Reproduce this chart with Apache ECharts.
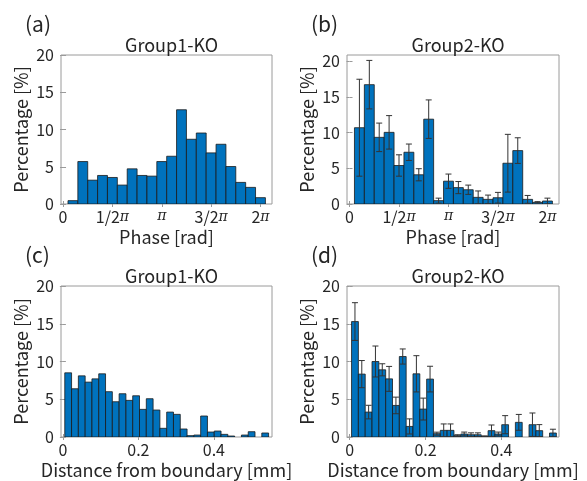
<!DOCTYPE html>
<html>
<head>
<meta charset="utf-8">
<script src="https://cdn.jsdelivr.net/npm/echarts@6/dist/echarts.min.js"></script>
<style>
  html, body { margin: 0; padding: 0; background: #fff; }
  #chart { width: 587px; height: 481px; }
</style>
</head>
<body>
<div id="chart"></div>
<script>
// histogram bins
const phaseBinWidth = Math.PI / 10;
const phaseFirstEdge = Math.PI / 20;
const distBinWidth = 0.018;
const distFirstEdge = 0.005;

// (a) Group1-KO, phase
const group1Phase = [0.45, 5.7, 3.2, 3.83, 3.56, 2.54, 4.72, 3.83, 3.74, 5.7,
                     6.41, 12.65, 8.69, 9.53, 6.86, 8.02, 5.03, 2.9, 2.23, 0.85];
// (b) Group2-KO, phase (mean and error)
const group2Phase = [10.7, 16.74, 9.35, 10.05, 5.4, 7.26, 4.1, 11.9, 0.47, 3.2,
                     2.3, 2.0, 0.93, 0.65, 0.88, 5.72, 7.49, 0.65, 0.23, 0.42];
const group2PhaseErr = [6.8, 3.4, 2.0, 2.35, 1.5, 1.15, 0.85, 2.7, 0.35, 1.0,
                        0.85, 0.65, 0.9, 0.6, 0.75, 4.05, 1.8, 0.55, 0.1, 0.4];
// (c) Group1-KO, distance
const group1Dist = [8.5, 6.39, 8.1, 7.27, 7.7, 8.37, 6.0, 4.67, 5.73, 4.85,
                    5.46, 3.66, 5.07, 3.57, 1.15, 3.3, 3.0, 1.06, 0.18, 0.26,
                    2.78, 0.66, 0.79, 0.35, 0.13, 0, 0.26, 0.7, 0, 0.53];
// (d) Group2-KO, distance (mean and error)
const group2Dist = [15.29, 8.33, 3.3, 10.0, 8.9, 7.7, 4.18, 10.66, 1.4, 8.37,
                    3.7, 7.67, 0.44, 0.88, 0.88, 0.18, 0.4, 0.3, 0.3, 0.09,
                    0.84, 0.4, 1.63, 0, 1.94, 0, 1.63, 0.84, 0, 0.53];
const group2DistErr = [2.5, 1.8, 0.9, 2.05, 0.8, 1.65, 1.1, 1.0, 1.0, 2.4,
                       1.45, 1.7, 0.2, 0.85, 0.85, 0.12, 0.25, 0.25, 0.25, 0.05,
                       0.75, 0.25, 1.2, 0, 1.05, 0, 1.55, 0.8, 0, 0.5];

const phaseTicks = [0, Math.PI / 2, Math.PI, 3 * Math.PI / 2, 2 * Math.PI];
const phaseTickLabels = ['0', '1/2{p|π}', '{p|π}', '3/2{p|π}', '2{p|π}'];
const distTicks = [0, 0.2, 0.4];
const distTickLabels = ['0', '0.2', '0.4'];
const yTicks = [0, 5, 10, 15, 20];

const titles = ['Group1-KO', 'Group2-KO', 'Group1-KO', 'Group2-KO'];
const letters = ['(a)', '(b)', '(c)', '(d)'];

const FONT = 'Noto Sans CJK JP';
const TEXT = '#262626';
const BOX = '#9a9a9a';
const BAR = '#0072BD';

const panels = [
    { grid: { left: 61, top: 55, width: 211, height: 149 }, xmin: -0.065, xmax: 6.65, ymax: 20,
      ticks: phaseTicks, labels: phaseTickLabels, xname: 'Phase [rad]',
      values: group1Phase, errs: null, first: phaseFirstEdge, width: phaseBinWidth },
    { grid: { left: 347, top: 55, width: 212, height: 149 }, xmin: -0.08, xmax: 6.65, ymax: 20.9,
      ticks: phaseTicks, labels: phaseTickLabels, xname: 'Phase [rad]',
      values: group2Phase, errs: group2PhaseErr, first: phaseFirstEdge, width: phaseBinWidth },
    { grid: { left: 61, top: 286, width: 211, height: 151 }, xmin: -0.005, xmax: 0.554, ymax: 20,
      ticks: distTicks, labels: distTickLabels, xname: 'Distance from boundary [mm]',
      values: group1Dist, errs: null, first: distFirstEdge, width: distBinWidth },
    { grid: { left: 347, top: 286, width: 212, height: 151 }, xmin: -0.007, xmax: 0.552, ymax: 20,
      ticks: distTicks, labels: distTickLabels, xname: 'Distance from boundary [mm]',
      values: group2Dist, errs: group2DistErr, first: distFirstEdge, width: distBinWidth },
];

function renderBar(params, api) {
    const c = api.value(0);
    const v = api.value(1);
    const w = api.value(2);
    if (!(v > 0)) return null;
    const p0 = api.coord([c - w / 2, v]);
    const p1 = api.coord([c + w / 2, 0]);
    return {
        type: 'rect',
        shape: { x: p0[0], y: p0[1], width: p1[0] - p0[0], height: p1[1] - p0[1] },
        style: { fill: BAR, stroke: '#1b1b1b', lineWidth: 0.8 },
    };
}

function renderErr(params, api) {
    const c = api.value(0);
    const v = api.value(1);
    const e = api.value(2);
    if (!(e > 0)) return null;
    const hi = api.coord([c, v + e]);
    const lo = api.coord([c, v - e]);
    const cap = 3;
    const style = { stroke: '#333', lineWidth: 1 };
    return {
        type: 'group',
        children: [
            { type: 'line', shape: { x1: hi[0], y1: hi[1], x2: lo[0], y2: lo[1] }, style },
            { type: 'line', shape: { x1: hi[0] - cap, y1: hi[1], x2: hi[0] + cap, y2: hi[1] }, style },
            { type: 'line', shape: { x1: lo[0] - cap, y1: lo[1], x2: lo[0] + cap, y2: lo[1] }, style },
        ],
    };
}

const grid = [];
const xAxis = [];
const yAxis = [];
const series = [];
const title = [];

panels.forEach((p, i) => {
    grid.push(Object.assign({ show: true, borderColor: BOX, borderWidth: 1, backgroundColor: '#fff' }, p.grid));
    const tickFmt = (val) => {
        const idx = p.ticks.findIndex((t) => Math.abs(t - val) < 1e-6);
        return idx >= 0 ? p.labels[idx] : '';
    };
    const baseX = {
        type: 'value', gridIndex: i, min: p.xmin, max: p.xmax,
        axisLine: { show: false }, splitLine: { show: false },
        axisTick: { show: true, inside: true, length: 3, lineStyle: { color: BOX }, customValues: p.ticks },
    };
    xAxis.push(Object.assign({}, baseX, {
        position: 'bottom',
        name: p.xname, nameLocation: 'middle', nameGap: 24,
        nameTextStyle: { fontFamily: FONT, fontSize: 18, color: TEXT },
        axisLabel: {
            customValues: p.ticks, formatter: tickFmt, margin: 5,
            fontFamily: FONT, fontSize: 16, color: TEXT,
            rich: { p: { fontFamily: 'DejaVu Serif', fontStyle: 'italic', fontSize: 14, color: TEXT } },
        },
    }));
    xAxis.push(Object.assign({}, baseX, { position: 'top', axisLabel: { show: false } }));
    const baseY = {
        type: 'value', gridIndex: i, min: 0, max: p.ymax,
        axisLine: { show: false }, splitLine: { show: false },
        axisTick: { show: true, inside: true, length: 3, lineStyle: { color: BOX }, customValues: yTicks },
    };
    yAxis.push(Object.assign({}, baseY, {
        position: 'left',
        name: 'Percentage [%]', nameLocation: 'middle', nameGap: 31,
        nameTextStyle: { fontFamily: FONT, fontSize: 18, color: TEXT },
        axisLabel: { customValues: yTicks, margin: 7, fontFamily: FONT, fontSize: 16, color: TEXT },
    }));
    yAxis.push(Object.assign({}, baseY, { position: 'right', axisLabel: { show: false } }));

    const bars = p.values.map((v, k) => [p.first + p.width * (k + 0.5), v, p.width]);
    series.push({
        type: 'custom', xAxisIndex: 2 * i, yAxisIndex: 2 * i,
        renderItem: renderBar, data: bars, clip: true, silent: true,
    });
    if (p.errs) {
        const errs = p.values.map((v, k) => [p.first + p.width * (k + 0.5), v, p.errs[k]]);
        series.push({
            type: 'custom', xAxisIndex: 2 * i, yAxisIndex: 2 * i, z: 3,
            renderItem: renderErr, data: errs, clip: true, silent: true,
        });
    }

    title.push({
        text: titles[i],
        left: p.grid.left + p.grid.width / 2, top: p.grid.top - 24, textAlign: 'center',
        textStyle: { fontFamily: FONT, fontSize: 18, fontWeight: 'normal', color: TEXT },
    });
    title.push({
        text: letters[i],
        left: p.grid.left - 41, top: p.grid.top - 46,
        textStyle: { fontFamily: FONT, fontSize: 21, fontWeight: 'normal', color: TEXT },
    });
});

const chart = echarts.init(document.getElementById('chart'), null, { renderer: 'canvas' });
chart.setOption({
    animation: false,
    backgroundColor: '#fff',
    title,
    grid,
    xAxis,
    yAxis,
    series,
});
</script>
</body>
</html>
